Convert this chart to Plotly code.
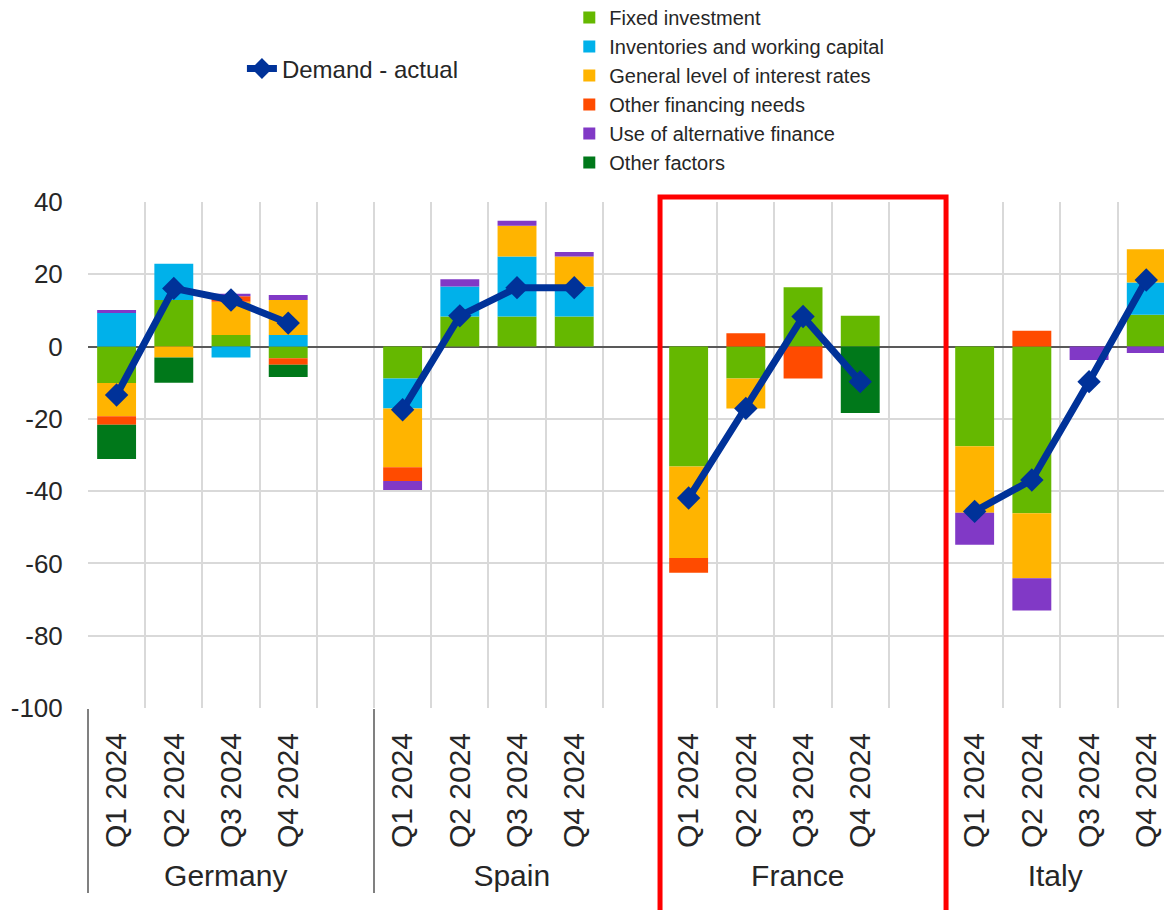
import plotly.graph_objects as go

countries = ["Germany", "Spain", "France", "Italy"]
quarters = ["Q1 2024", "Q2 2024", "Q3 2024", "Q4 2024"]

# values per country, Q1..Q4 (percentages)
fixed_investment = {
    "Germany": [-10.1, 12.9, 3.2, -3.2],
    "Spain": [-8.8, 8.3, 8.3, 8.3],
    "France": [-33.2, -8.8, 16.4, 8.5],
    "Italy": [-27.6, -46.1, 0, 8.8],
}
inventories = {
    "Germany": [9.3, 10.0, -3.0, 3.2],
    "Spain": [-8.3, 8.3, 16.6, 8.3],
    "France": [0, 0, 0, 0],
    "Italy": [0, 0, 0, 8.9],
}
interest_rates = {
    "Germany": [-9.2, -3.0, 9.2, 9.7],
    "Spain": [-16.3, 0, 8.5, 8.3],
    "France": [-25.3, -8.3, 0, 0],
    "Italy": [-18.4, -18.0, 0, 9.2],
}
other_financing = {
    "Germany": [-2.3, 0, 1.5, -1.8],
    "Spain": [-3.8, 0, 0, 0],
    "France": [-4.1, 3.7, -8.8, 0],
    "Italy": [0, 4.4, 0, 0],
}
alternative_finance = {
    "Germany": [0.8, 0, 0.7, 1.4],
    "Spain": [-2.5, 2.0, 1.4, 1.3],
    "France": [0, 0, 0, 0],
    "Italy": [-8.8, -8.9, -3.7, -1.8],
}
other_factors = {
    "Germany": [-9.5, -7.0, 0, -3.4],
    "Spain": [0, 0, 0, 0],
    "France": [0, 0, 0, -18.4],
    "Italy": [0, 0, 0, 0],
}
demand_actual = {
    "Germany": [-13.4, 16.1, 12.9, 6.5],
    "Spain": [-17.5, 8.5, 16.3, 16.3],
    "France": [-41.9, -17.1, 8.3, -9.7],
    "Italy": [-45.6, -36.9, -9.7, 18.4],
}

y_tickvals = [-100, -80, -60, -40, -20, 0, 20, 40]
y_ticktext = ["-100", "-80", "-60", "-40", "-20", "0", "20", "40"]

series = [
    ("Fixed investment", fixed_investment, "#65b800"),
    ("Inventories and working capital", inventories, "#00b1ea"),
    ("General level of interest rates", interest_rates, "#ffb400"),
    ("Other financing needs", other_financing, "#ff4b00"),
    ("Use of alternative finance", alternative_finance, "#8139c6"),
    ("Other factors", other_factors, "#00781a"),
]

# multicategory x with an empty slot after each country
outer, inner = [], []
for c in countries:
    for q in quarters:
        outer.append(c)
        inner.append(q)
    outer.append(c)
    inner.append(" ")


def flat(d):
    out = []
    for c in countries:
        out.extend(d[c])
        out.append(None)
    return out


FONT = "Liberation Sans, Arial, sans-serif"
TXT = "#262626"

fig = go.Figure()
for name, d, col in series:
    fig.add_trace(go.Bar(
        x=[outer, inner], y=flat(d), name=name,
        marker=dict(color=col, line=dict(width=0)),
        legend="legend",
    ))

fig.add_trace(go.Scatter(
    x=[outer, inner], y=flat(demand_actual), name="Demand - actual",
    mode="lines+markers",
    line=dict(color="#003299", width=7),
    marker=dict(symbol="diamond", size=18, color="#003299"),
    legend="legend2",
))

fig.add_shape(
    type="rect", xref="x", yref="paper",
    x0=9.5, x1=14.5, y0=-0.5, y1=1.01,
    line=dict(color="#ff0000", width=5), fillcolor="rgba(0,0,0,0)",
)

fig.update_layout(
    width=1172, height=910,
    margin=dict(l=80, r=8, t=194, b=210, autoexpand=False),
    paper_bgcolor="white", plot_bgcolor="white",
    barmode="relative", bargap=0.32,
    font=dict(family=FONT, color=TXT),
    legend=dict(
        x=0.444, y=1.403, xanchor="left", yanchor="top",
        font=dict(size=20, color=TXT), bgcolor="rgba(0,0,0,0)",
        itemclick=False, traceorder="normal",
    ),
    legend2=dict(
        x=0.142, y=1.263, xanchor="left", yanchor="middle",
        font=dict(size=24, color=TXT), bgcolor="rgba(0,0,0,0)",
    ),
    xaxis=dict(
        type="multicategory",
        range=[-0.5, 18.45],
        tickson="boundaries",
        showgrid=True, gridcolor="#d9d9d9", gridwidth=1.5,
        tickangle=-90,
        tickfont=dict(size=30, color=TXT),
        ticks="", ticklabelstandoff=18,
        showdividers=True, dividercolor="#808080", dividerwidth=2,
        showline=False, zeroline=False, automargin=False,
    ),
    yaxis=dict(
        range=[-100, 40], tickvals=y_tickvals, ticktext=y_ticktext,
        showgrid=True, gridcolor="#d9d9d9", gridwidth=1.5,
        zeroline=True, zerolinecolor="#595959", zerolinewidth=1.5,
        tickfont=dict(size=26, color=TXT),
        ticks="outside", ticklen=19, tickcolor="rgba(0,0,0,0)",
        showline=False, automargin=False,
    ),
)

fig.write_html("out.html")
